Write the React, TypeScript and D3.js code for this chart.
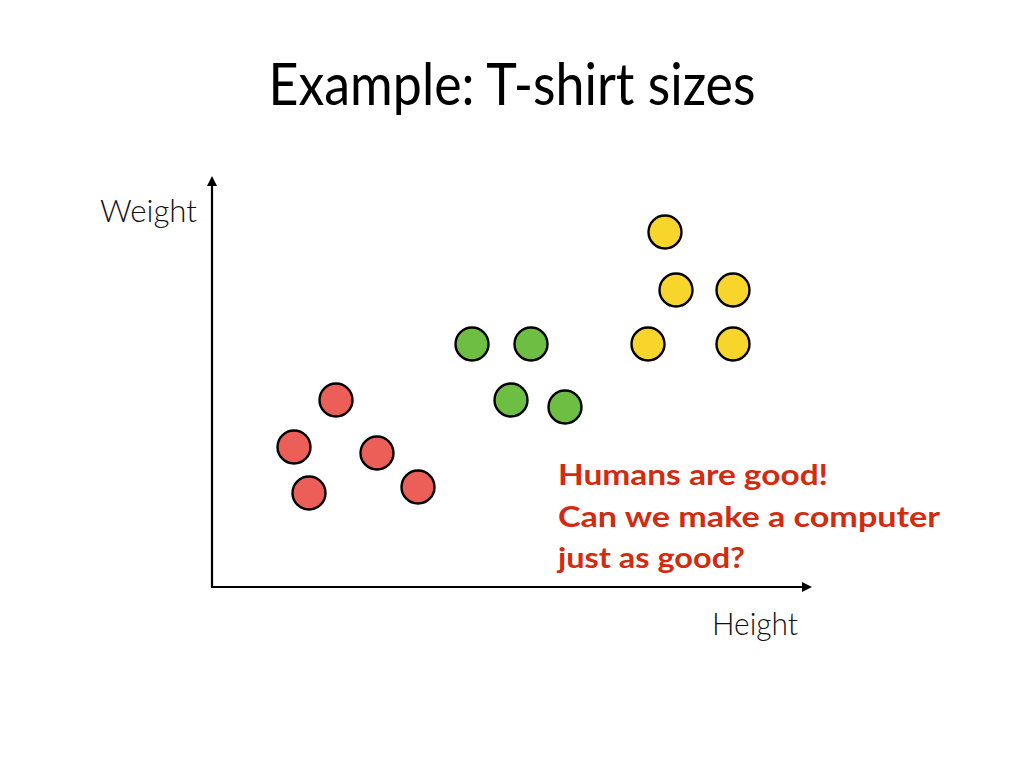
import React from "react";
import * as d3 from "d3";

// Data (height, weight) in arbitrary units
const redHeights = [124, 82, 165, 97, 206];
const redWeights = [187, 140, 134, 94, 100];
const greenHeights = [260, 319, 299, 353];
const greenWeights = [243, 243, 187, 180];
const yellowHeights = [453, 464, 521, 436, 521];
const yellowWeights = [355, 297, 297, 243, 243];

const titleText = "Example: T-shirt sizes";
const xLabel = "Height";
const yLabel = "Weight";
const noteLines = ["Humans are good!", "Can we make a computer", "just as good?"];

const groups = [
  { name: "small", hs: redHeights, ws: redWeights, color: "#ec5f59" },
  { name: "medium", hs: greenHeights, ws: greenWeights, color: "#6dbe43" },
  { name: "large", hs: yellowHeights, ws: yellowWeights, color: "#f8d52b" },
];

export default function App() {
  const W = 1024;
  const H = 768;
  const x = d3.scaleLinear().domain([0, 600]).range([212, 812]);
  const y = d3.scaleLinear().domain([0, 411]).range([587, 176]);
  const font = "'Gill Sans', 'Gill Sans MT', Lato, 'Open Sans', sans-serif";
  const [x0, x1] = x.range();
  const [y0, y1] = y.range();
  const ah = 10;
  const aw = 5;
  return (
    <svg
      width={W}
      height={H}
      style={{ position: "absolute", left: 0, top: 0, display: "block", background: "#fff" }}
    >
      <text
        x={512}
        y={105}
        textAnchor="middle"
        fontFamily={font}
        fontSize={58}
        fill="#000"
        textLength={487}
        lengthAdjust="spacingAndGlyphs"
      >
        {titleText}
      </text>

      {/* axes */}
      <line x1={x0} y1={y0} x2={x0} y2={y1 + ah - 1} stroke="#000" strokeWidth={2.2} />
      <path d={`M${x0},${y1} L${x0 - aw},${y1 + ah} L${x0 + aw},${y1 + ah} Z`} fill="#000" />
      <line x1={x0 - 1} y1={y0} x2={x1 - ah + 1} y2={y0} stroke="#000" strokeWidth={2.2} />
      <path d={`M${x1},${y0} L${x1 - ah},${y0 - aw} L${x1 - ah},${y0 + aw} Z`} fill="#000" />

      <text
        x={100}
        y={222}
        fontFamily={font}
        fontWeight={300}
        fontSize={31}
        fill="#111"
        textLength={97}
        lengthAdjust="spacingAndGlyphs"
      >
        {yLabel}
      </text>
      <text
        x={712}
        y={635}
        fontFamily={font}
        fontWeight={300}
        fontSize={31}
        fill="#111"
        textLength={86}
        lengthAdjust="spacingAndGlyphs"
      >
        {xLabel}
      </text>

      {groups.map((g) =>
        g.hs.map((h, i) => (
          <circle
            key={g.name + i}
            cx={x(h)}
            cy={y(g.ws[i])}
            r={16.5}
            fill={g.color}
            stroke="#000"
            strokeWidth={2.4}
          />
        ))
      )}

      {noteLines.map((t, i) => (
        <text
          key={i}
          x={558}
          y={485 + i * 41.5}
          fontFamily={font}
          fontWeight={700}
          fontSize={29}
          fill="#d22b10"
          textLength={[270, 382, 187][i]}
          lengthAdjust="spacingAndGlyphs"
        >
          {t}
        </text>
      ))}
    </svg>
  );
}
